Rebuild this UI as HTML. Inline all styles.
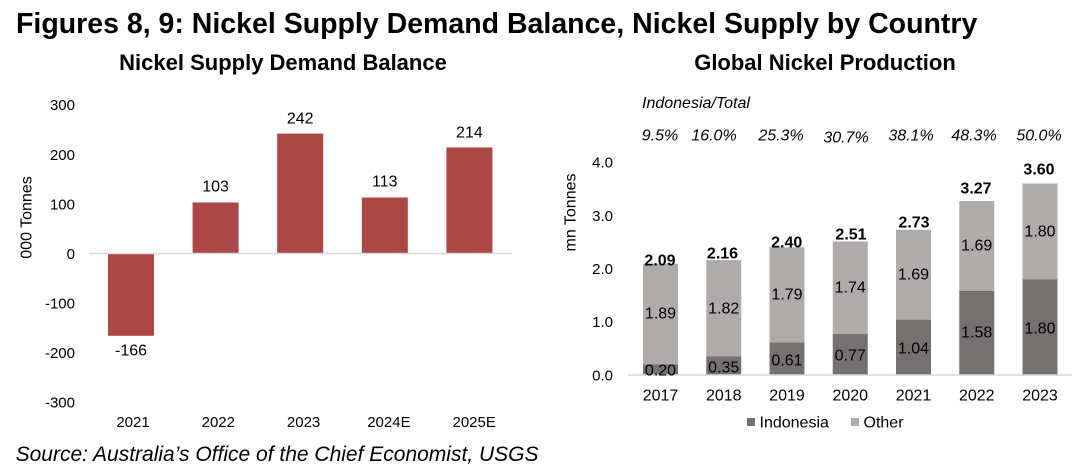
<!DOCTYPE html>
<html><head><meta charset="utf-8"><style>
html,body{margin:0;padding:0;background:#fff;}
svg{display:block;}
text{font-family:"Liberation Sans",Arial,sans-serif;fill:#000;}
</style></head><body>
<svg width="1082" height="471" viewBox="0 0 1082 471" xmlns="http://www.w3.org/2000/svg">
<rect width="1082" height="471" fill="#fff"/>
<text x="16" y="33" font-size="28.5" font-weight="bold">Figures 8, 9: Nickel Supply Demand Balance, Nickel Supply by Country</text>
<text x="283" y="70" font-size="22" font-weight="bold" text-anchor="middle">Nickel Supply Demand Balance</text>
<text x="825" y="70" font-size="22" font-weight="bold" text-anchor="middle">Global Nickel Production</text>

<!-- Left chart -->
<g font-size="15" text-anchor="end">
<text x="75" y="110.2">300</text>
<text x="75" y="159.8">200</text>
<text x="75" y="209.4">100</text>
<text x="75" y="258.9">0</text>
<text x="75" y="308.4">-100</text>
<text x="75" y="358">-200</text>
<text x="75" y="407.6">-300</text>
</g>
<text transform="translate(31.5,217.5) rotate(-90)" font-size="16" text-anchor="middle">000 Tonnes</text>
<g fill="#AB4744">
<rect x="108" y="253.5" width="46" height="82.25"/>
<rect x="192.6" y="202.46" width="46" height="51.04"/>
<rect x="277.2" y="133.6" width="46" height="119.9"/>
<rect x="361.8" y="197.5" width="46" height="56"/>
<rect x="446.4" y="147.46" width="46" height="106.04"/>
</g>
<line x1="89" y1="253.5" x2="512" y2="253.5" stroke="#d9d9d9" stroke-width="1.5"/>
<g font-size="16" text-anchor="middle">
<text x="131" y="355.7">-166</text>
<text x="215.6" y="191.7">103</text>
<text x="300.2" y="123.7">242</text>
<text x="384.8" y="186.7">113</text>
<text x="469.4" y="137.7">214</text>
</g>
<g font-size="15" text-anchor="middle">
<text x="133" y="427">2021</text>
<text x="218.3" y="427">2022</text>
<text x="303.6" y="427">2023</text>
<text x="388.9" y="427">2024E</text>
<text x="474.2" y="427">2025E</text>
</g>

<!-- Right chart -->
<text x="642" y="108" font-size="16" font-style="italic">Indonesia/Total</text>
<g font-size="16" font-style="italic" text-anchor="middle">
<text x="660" y="140.7">9.5%</text>
<text x="714" y="140.7">16.0%</text>
<text x="781" y="140.7">25.3%</text>
<text x="846" y="142.5">30.7%</text>
<text x="911" y="140.7">38.1%</text>
<text x="974" y="140.7">48.3%</text>
<text x="1039" y="140.7">50.0%</text>
</g>
<g font-size="15" text-anchor="end">
<text x="613" y="167.6">4.0</text>
<text x="613" y="220.8">3.0</text>
<text x="613" y="274">2.0</text>
<text x="613" y="327.2">1.0</text>
<text x="613" y="380.4">0.0</text>
</g>
<text transform="translate(575.5,212.5) rotate(-90)" font-size="16" text-anchor="middle">mn Tonnes</text>
<g fill="#AFABAB">
<rect x="643" y="263.81" width="35" height="100.55"/>
<rect x="706.25" y="260.09" width="35" height="96.29"/>
<rect x="769.5" y="247.32" width="35" height="95.23"/>
<rect x="832.75" y="241.47" width="35" height="92.57"/>
<rect x="896" y="229.76" width="35" height="89.91"/>
<rect x="959.25" y="201.04" width="35" height="89.9"/>
<rect x="1022.5" y="183.48" width="35" height="95.76"/>
</g>
<g fill="#767171">
<rect x="643" y="364.36" width="35" height="10.64"/>
<rect x="706.25" y="356.38" width="35" height="18.62"/>
<rect x="769.5" y="342.55" width="35" height="32.45"/>
<rect x="832.75" y="334.04" width="35" height="40.96"/>
<rect x="896" y="319.67" width="35" height="55.33"/>
<rect x="959.25" y="290.94" width="35" height="84.06"/>
<rect x="1022.5" y="279.24" width="35" height="95.76"/>
</g>
<line x1="628" y1="375" x2="1072" y2="375" stroke="#d9d9d9" stroke-width="1.5"/>
<g font-size="16" text-anchor="middle">
<text x="660.5" y="318.7">1.89</text><text x="660.5" y="375.7">0.20</text>
<text x="723.75" y="313.7">1.82</text><text x="723.75" y="372.7">0.35</text>
<text x="787" y="299.7">1.79</text><text x="787" y="365.7">0.61</text>
<text x="850.25" y="292.7">1.74</text><text x="850.25" y="360.7">0.77</text>
<text x="913.5" y="279.7">1.69</text><text x="913.5" y="353.7">1.04</text>
<text x="976.75" y="250.7">1.69</text><text x="976.75" y="337.7">1.58</text>
<text x="1040" y="236.7">1.80</text><text x="1040" y="333.7">1.80</text>
</g>
<g font-size="16" font-weight="bold" text-anchor="middle">
<text x="660" y="265.7">2.09</text>
<text x="722.5" y="258.7">2.16</text>
<text x="786.7" y="247.7">2.40</text>
<text x="851" y="239.7">2.51</text>
<text x="914" y="227.7">2.73</text>
<text x="976" y="193.7">3.27</text>
<text x="1039" y="174.7">3.60</text>
</g>
<g font-size="16" text-anchor="middle">
<text x="660.5" y="400.7">2017</text>
<text x="723.75" y="400.7">2018</text>
<text x="787" y="400.7">2019</text>
<text x="850.25" y="400.7">2020</text>
<text x="913.5" y="400.7">2021</text>
<text x="976.75" y="400.7">2022</text>
<text x="1040" y="400.7">2023</text>
</g>
<rect x="747" y="418" width="8" height="8" fill="#767171"/>
<text x="759.5" y="427.7" font-size="16">Indonesia</text>
<rect x="851" y="418" width="8" height="8" fill="#AFABAB"/>
<text x="863.5" y="427.7" font-size="16">Other</text>

<text x="15.6" y="461" font-size="21" font-style="italic">Source: Australia’s Office of the Chief Economist, USGS</text>
</svg>
</body></html>
